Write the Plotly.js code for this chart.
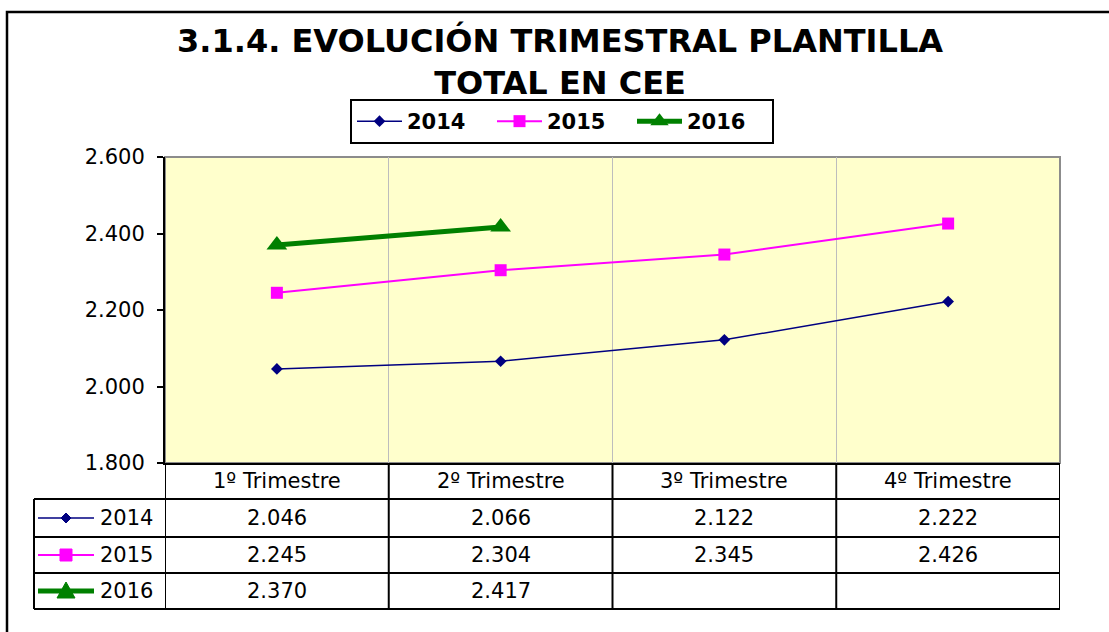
<!DOCTYPE html>
<html>
<head>
<meta charset="utf-8">
<script src="https://cdn.plot.ly/plotly-3.0.1.min.js"></script>
<style>
  html, body { margin: 0; padding: 0; background: #ffffff; }
  #chart { width: 1109px; height: 632px; }
</style>
</head>
<body>
<div id="chart"></div>
<script>
// ---- data ----
const categories = ["1º Trimestre", "2º Trimestre", "3º Trimestre", "4º Trimestre"];
const seriesNames = ["2014", "2015", "2016"];
const values2014 = [2046, 2066, 2122, 2222];
const values2015 = [2245, 2304, 2345, 2426];
const values2016 = [2370, 2417, null, null];
const yTickVals = [1800, 2000, 2200, 2400, 2600];

// ---- geometry helpers (pixels -> paper) ----
const W = 1109, H = 632;
const L = 165, R = 1060, T = 157, B = 463;
const xp = px => (px - L) / (R - L);
const yp = py => (B - py) / (B - T);

const FONT = "DejaVu Sans, Verdana, sans-serif";
const FS = 21;
const fmt = v => (v === null || v === undefined) ? "" : String(v).replace(/\B(?=(\d{3})+(?!\d))/g, ".");

const styles = [
  {color: "#000080", width: 1.5, symbol: "diamond", size: 9},
  {color: "#FF00FF", width: 2, symbol: "square", size: 12},
  {color: "#008000", width: 5, symbol: "triangle-up", size: 18}
];
const seriesValues = [values2014, values2015, values2016];

const traces = seriesValues.map((vals, i) => ({
  type: "scatter",
  mode: "lines+markers",
  name: seriesNames[i],
  x: categories,
  y: vals,
  line: {color: styles[i].color, width: styles[i].width},
  marker: {color: styles[i].color, symbol: styles[i].symbol, size: styles[i].size},
  connectgaps: false,
  cliponaxis: false
}));

// ---- table (rows under the plot) ----
const headerY = 481;
const rowCenters = [518, 555, 591];
const rowLines = [499, 537, 573, 609];
const tableLeft = 34;

const annotations = [];
categories.forEach((c, j) => {
  annotations.push({xref: "x", yref: "paper", x: j, y: yp(headerY), text: c,
    showarrow: false, font: {family: FONT, size: FS, color: "#000"}, xanchor: "center", yanchor: "middle"});
});
seriesValues.forEach((vals, i) => {
  annotations.push({xref: "paper", yref: "paper", x: xp(126), y: yp(rowCenters[i]), text: seriesNames[i],
    showarrow: false, font: {family: FONT, size: FS, color: "#000"}, xanchor: "center", yanchor: "middle"});
  vals.forEach((v, j) => {
    annotations.push({xref: "x", yref: "paper", x: j, y: yp(rowCenters[i]), text: fmt(v),
      showarrow: false, font: {family: FONT, size: FS, color: "#000"}, xanchor: "center", yanchor: "middle"});
  });
});

const shapes = [];
// outer frame
shapes.push({type: "rect", xref: "paper", yref: "paper", x0: xp(7), x1: xp(1125), y0: yp(12), y1: yp(650),
  line: {color: "#000", width: 2.5}, fillcolor: "rgba(0,0,0,0)"});
// plot area gray border (top/right)
shapes.push({type: "rect", xref: "paper", yref: "paper", x0: 0, x1: 1, y0: 0, y1: 1,
  line: {color: "#8c8c8c", width: 2}, fillcolor: "rgba(0,0,0,0)", layer: "below"});
// table horizontal lines
rowLines.forEach(py => {
  shapes.push({type: "line", xref: "paper", yref: "paper", x0: xp(tableLeft), x1: 1, y0: yp(py), y1: yp(py),
    line: {color: "#000", width: 2}});
});
// table vertical lines at category boundaries
for (let k = 0; k <= categories.length; k++) {
  shapes.push({type: "line", xref: "x", yref: "paper", x0: k - 0.5, x1: k - 0.5, y0: 0, y1: yp(609),
    line: {color: "#000", width: 2}});
}
// left column outer line
shapes.push({type: "line", xref: "paper", yref: "paper", x0: xp(tableLeft), x1: xp(tableLeft), y0: yp(499), y1: yp(609),
  line: {color: "#000", width: 2}});
// legend keys inside the table
function pathPx(pts) {
  return "M" + pts.map(p => xp(p[0]) + "," + yp(p[1])).join("L") + "Z";
}
rowCenters.forEach((cy, i) => {
  const s = styles[i];
  shapes.push({type: "line", xref: "paper", yref: "paper", x0: xp(38), x1: xp(94), y0: yp(cy), y1: yp(cy),
    line: {color: s.color, width: s.width}});
  const cx = 66;
  let pts;
  if (s.symbol === "diamond") pts = [[cx, cy - 5], [cx + 5, cy], [cx, cy + 5], [cx - 5, cy]];
  else if (s.symbol === "square") pts = [[cx - 6, cy - 6], [cx + 6, cy - 6], [cx + 6, cy + 6], [cx - 6, cy + 6]];
  else pts = [[cx, cy - 9], [cx + 9, cy + 7], [cx - 9, cy + 7]];
  shapes.push({type: "path", xref: "paper", yref: "paper", path: pathPx(pts),
    fillcolor: s.color, line: {color: s.color, width: 1}});
});

const layout = {
  width: W, height: H,
  margin: {l: L, r: W - R, t: T, b: H - B, pad: 0},
  paper_bgcolor: "#ffffff",
  plot_bgcolor: "#FFFFCC",
  separators: ",.",
  font: {family: FONT, color: "#000"},
  title: {
    text: "<b>3.1.4. EVOLUCIÓN TRIMESTRAL PLANTILLA<br>TOTAL EN CEE</b>",
    font: {family: FONT, size: 32, color: "#000"},
    x: 0.505, xref: "container", xanchor: "center",
    y: 1 - 52 / H, yref: "container", yanchor: "top"
  },
  showlegend: true,
  legend: {
    orientation: "h",
    x: xp(562), xanchor: "center",
    y: yp(99), yanchor: "top",
    bgcolor: "#ffffff", bordercolor: "#000", borderwidth: 2,
    font: {family: FONT, size: 21, color: "#000", weight: "bold"},
    itemwidth: 45,
    entrywidth: 80,
    entrywidthmode: "pixels",
    itemsizing: "trace"
  },
  xaxis: {
    type: "category",
    categoryarray: categories,
    range: [-0.5, categories.length - 0.5],
    showticklabels: false,
    ticks: "",
    tickson: "boundaries",
    showgrid: true,
    gridcolor: "#BDBDBD",
    gridwidth: 1,
    showline: true, linecolor: "#000", linewidth: 2,
    zeroline: false, fixedrange: true
  },
  yaxis: {
    range: [1800, 2600],
    tickvals: yTickVals,
    tickformat: ",d",
    showgrid: false,
    zeroline: false,
    showline: true, linecolor: "#000", linewidth: 2,
    ticks: "outside", ticklen: 6, tickwidth: 2, tickcolor: "#000",
    ticklabelstandoff: 8,
    tickfont: {family: FONT, size: FS, color: "#000"},
    fixedrange: true
  },
  shapes: shapes,
  annotations: annotations
};

Plotly.newPlot("chart", traces, layout, {displayModeBar: false, staticPlot: true});
</script>
</body>
</html>
